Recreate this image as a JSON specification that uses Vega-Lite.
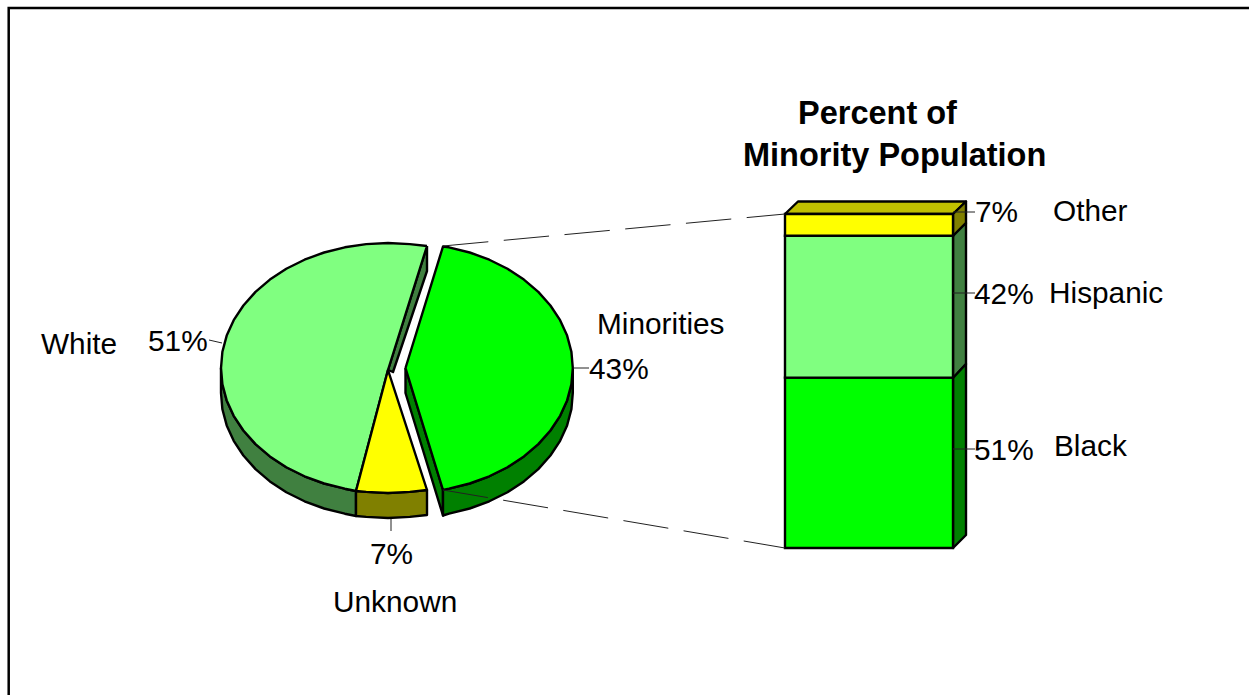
{
"$schema":"https://vega.github.io/schema/vega-lite/v6.json",
"width":1249,"height":695,"padding":0,
"autosize":{"type":"none"},
"background":"white",
"config":{"view":{"stroke":null},"axis":{"grid":false}},
"datasets":{
"shapes":[
{"s":"WhiteCut","p":"White side","i":0,"x":427,"y":246},{"s":"WhiteCut","p":"White side","i":1,"x":427,"y":271},{"s":"WhiteCut","p":"White side","i":2,"x":393,"y":372},{"s":"WhiteCut","p":"White side","i":3,"x":388,"y":370},{"s":"WhiteCut","p":"White side","i":4,"x":427,"y":246},
{"s":"WhiteSide","p":"White side","i":0,"x":221,"y":368},{"s":"WhiteSide","p":"White side","i":1,"x":222.4,"y":384.3},{"s":"WhiteSide","p":"White side","i":2,"x":226.7,"y":400.4},{"s":"WhiteSide","p":"White side","i":3,"x":233.7,"y":415.8},{"s":"WhiteSide","p":"White side","i":4,"x":243.4,"y":430.5},{"s":"WhiteSide","p":"White side","i":5,"x":255.5,"y":444.1},{"s":"WhiteSide","p":"White side","i":6,"x":269.9,"y":456.4},{"s":"WhiteSide","p":"White side","i":7,"x":286.3,"y":467.2},{"s":"WhiteSide","p":"White side","i":8,"x":304.5,"y":476.3},{"s":"WhiteSide","p":"White side","i":9,"x":324.1,"y":483.5},{"s":"WhiteSide","p":"White side","i":10,"x":344.8,"y":488.7},{"s":"WhiteSide","p":"White side","i":11,"x":356,"y":491},{"s":"WhiteSide","p":"White side","i":12,"x":356,"y":516},{"s":"WhiteSide","p":"White side","i":13,"x":344.8,"y":513.7},{"s":"WhiteSide","p":"White side","i":14,"x":324.1,"y":508.5},{"s":"WhiteSide","p":"White side","i":15,"x":304.5,"y":501.3},{"s":"WhiteSide","p":"White side","i":16,"x":286.3,"y":492.2},{"s":"WhiteSide","p":"White side","i":17,"x":269.9,"y":481.4},{"s":"WhiteSide","p":"White side","i":18,"x":255.5,"y":469.1},{"s":"WhiteSide","p":"White side","i":19,"x":243.4,"y":455.5},{"s":"WhiteSide","p":"White side","i":20,"x":233.7,"y":440.8},{"s":"WhiteSide","p":"White side","i":21,"x":226.7,"y":425.4},{"s":"WhiteSide","p":"White side","i":22,"x":222.4,"y":409.3},{"s":"WhiteSide","p":"White side","i":23,"x":221,"y":393},{"s":"WhiteSide","p":"White side","i":24,"x":221,"y":368},
{"s":"UnknownSide","p":"Yellow side","i":0,"x":356,"y":491},{"s":"UnknownSide","p":"Yellow side","i":1,"x":366.2,"y":491.9},{"s":"UnknownSide","p":"Yellow side","i":2,"x":388,"y":493},{"s":"UnknownSide","p":"Yellow side","i":3,"x":409.8,"y":491.9},{"s":"UnknownSide","p":"Yellow side","i":4,"x":427,"y":490},{"s":"UnknownSide","p":"Yellow side","i":5,"x":427,"y":515},{"s":"UnknownSide","p":"Yellow side","i":6,"x":409.8,"y":516.9},{"s":"UnknownSide","p":"Yellow side","i":7,"x":388,"y":518},{"s":"UnknownSide","p":"Yellow side","i":8,"x":366.2,"y":516.9},{"s":"UnknownSide","p":"Yellow side","i":9,"x":356,"y":516},{"s":"UnknownSide","p":"Yellow side","i":10,"x":356,"y":491},
{"s":"White","p":"White","i":0,"x":427,"y":246},{"s":"White","p":"White","i":1,"x":409.8,"y":244.1},{"s":"White","p":"White","i":2,"x":388,"y":243},{"s":"White","p":"White","i":3,"x":366.2,"y":244.1},{"s":"White","p":"White","i":4,"x":344.8,"y":247.3},{"s":"White","p":"White","i":5,"x":324.1,"y":252.5},{"s":"White","p":"White","i":6,"x":304.5,"y":259.7},{"s":"White","p":"White","i":7,"x":286.3,"y":268.8},{"s":"White","p":"White","i":8,"x":269.9,"y":279.6},{"s":"White","p":"White","i":9,"x":255.5,"y":291.9},{"s":"White","p":"White","i":10,"x":243.4,"y":305.5},{"s":"White","p":"White","i":11,"x":233.7,"y":320.2},{"s":"White","p":"White","i":12,"x":226.7,"y":335.6},{"s":"White","p":"White","i":13,"x":222.4,"y":351.7},{"s":"White","p":"White","i":14,"x":221,"y":368},{"s":"White","p":"White","i":15,"x":222.4,"y":384.3},{"s":"White","p":"White","i":16,"x":226.7,"y":400.4},{"s":"White","p":"White","i":17,"x":233.7,"y":415.8},{"s":"White","p":"White","i":18,"x":243.4,"y":430.5},{"s":"White","p":"White","i":19,"x":255.5,"y":444.1},{"s":"White","p":"White","i":20,"x":269.9,"y":456.4},{"s":"White","p":"White","i":21,"x":286.3,"y":467.2},{"s":"White","p":"White","i":22,"x":304.5,"y":476.3},{"s":"White","p":"White","i":23,"x":324.1,"y":483.5},{"s":"White","p":"White","i":24,"x":344.8,"y":488.7},{"s":"White","p":"White","i":25,"x":356,"y":491},{"s":"White","p":"White","i":26,"x":388,"y":370},{"s":"White","p":"White","i":27,"x":427,"y":246},
{"s":"Unknown","p":"Yellow","i":0,"x":356,"y":491},{"s":"Unknown","p":"Yellow","i":1,"x":366.2,"y":491.9},{"s":"Unknown","p":"Yellow","i":2,"x":388,"y":493},{"s":"Unknown","p":"Yellow","i":3,"x":409.8,"y":491.9},{"s":"Unknown","p":"Yellow","i":4,"x":427,"y":490},{"s":"Unknown","p":"Yellow","i":5,"x":388,"y":370},{"s":"Unknown","p":"Yellow","i":6,"x":356,"y":491},
{"s":"MinCut","p":"Green side","i":0,"x":405.5,"y":368},{"s":"MinCut","p":"Green side","i":1,"x":443,"y":490},{"s":"MinCut","p":"Green side","i":2,"x":443,"y":515.5},{"s":"MinCut","p":"Green side","i":3,"x":405.5,"y":393},{"s":"MinCut","p":"Green side","i":4,"x":405.5,"y":368},
{"s":"MinSide","p":"Green side","i":0,"x":443,"y":490},{"s":"MinSide","p":"Green side","i":1,"x":449,"y":488.7},{"s":"MinSide","p":"Green side","i":2,"x":469.7,"y":483.5},{"s":"MinSide","p":"Green side","i":3,"x":489.3,"y":476.3},{"s":"MinSide","p":"Green side","i":4,"x":507.5,"y":467.2},{"s":"MinSide","p":"Green side","i":5,"x":523.9,"y":456.4},{"s":"MinSide","p":"Green side","i":6,"x":538.3,"y":444.1},{"s":"MinSide","p":"Green side","i":7,"x":550.4,"y":430.5},{"s":"MinSide","p":"Green side","i":8,"x":560.1,"y":415.8},{"s":"MinSide","p":"Green side","i":9,"x":567.1,"y":400.4},{"s":"MinSide","p":"Green side","i":10,"x":571.4,"y":384.3},{"s":"MinSide","p":"Green side","i":11,"x":572.8,"y":368},{"s":"MinSide","p":"Green side","i":12,"x":572.8,"y":393},{"s":"MinSide","p":"Green side","i":13,"x":571.4,"y":409.3},{"s":"MinSide","p":"Green side","i":14,"x":567.1,"y":425.4},{"s":"MinSide","p":"Green side","i":15,"x":560.1,"y":440.8},{"s":"MinSide","p":"Green side","i":16,"x":550.4,"y":455.5},{"s":"MinSide","p":"Green side","i":17,"x":538.3,"y":469.1},{"s":"MinSide","p":"Green side","i":18,"x":523.9,"y":481.4},{"s":"MinSide","p":"Green side","i":19,"x":507.5,"y":492.2},{"s":"MinSide","p":"Green side","i":20,"x":489.3,"y":501.3},{"s":"MinSide","p":"Green side","i":21,"x":469.7,"y":508.5},{"s":"MinSide","p":"Green side","i":22,"x":449,"y":513.7},{"s":"MinSide","p":"Green side","i":23,"x":443,"y":515.5},{"s":"MinSide","p":"Green side","i":24,"x":443,"y":490},
{"s":"Minorities","p":"Green","i":0,"x":405.5,"y":368},{"s":"Minorities","p":"Green","i":1,"x":443,"y":246.5},{"s":"Minorities","p":"Green","i":2,"x":449,"y":247.3},{"s":"Minorities","p":"Green","i":3,"x":469.7,"y":252.5},{"s":"Minorities","p":"Green","i":4,"x":489.3,"y":259.7},{"s":"Minorities","p":"Green","i":5,"x":507.5,"y":268.8},{"s":"Minorities","p":"Green","i":6,"x":523.9,"y":279.6},{"s":"Minorities","p":"Green","i":7,"x":538.3,"y":291.9},{"s":"Minorities","p":"Green","i":8,"x":550.4,"y":305.5},{"s":"Minorities","p":"Green","i":9,"x":560.1,"y":320.2},{"s":"Minorities","p":"Green","i":10,"x":567.1,"y":335.6},{"s":"Minorities","p":"Green","i":11,"x":571.4,"y":351.7},{"s":"Minorities","p":"Green","i":12,"x":572.8,"y":368},{"s":"Minorities","p":"Green","i":13,"x":571.4,"y":384.3},{"s":"Minorities","p":"Green","i":14,"x":567.1,"y":400.4},{"s":"Minorities","p":"Green","i":15,"x":560.1,"y":415.8},{"s":"Minorities","p":"Green","i":16,"x":550.4,"y":430.5},{"s":"Minorities","p":"Green","i":17,"x":538.3,"y":444.1},{"s":"Minorities","p":"Green","i":18,"x":523.9,"y":456.4},{"s":"Minorities","p":"Green","i":19,"x":507.5,"y":467.2},{"s":"Minorities","p":"Green","i":20,"x":489.3,"y":476.3},{"s":"Minorities","p":"Green","i":21,"x":469.7,"y":483.5},{"s":"Minorities","p":"Green","i":22,"x":449,"y":488.7},{"s":"Minorities","p":"Green","i":23,"x":443,"y":490},{"s":"Minorities","p":"Green","i":24,"x":405.5,"y":368},
{"s":"BarTop","p":"Yellow top","i":0,"x":785,"y":214},{"s":"BarTop","p":"Yellow top","i":1,"x":798,"y":201.5},{"s":"BarTop","p":"Yellow top","i":2,"x":966,"y":201.5},{"s":"BarTop","p":"Yellow top","i":3,"x":953,"y":214},{"s":"BarTop","p":"Yellow top","i":4,"x":785,"y":214},
{"s":"OtherSide","p":"Yellow side","i":0,"x":953,"y":214},{"s":"OtherSide","p":"Yellow side","i":1,"x":966,"y":201.5},{"s":"OtherSide","p":"Yellow side","i":2,"x":966,"y":223},{"s":"OtherSide","p":"Yellow side","i":3,"x":953,"y":236},{"s":"OtherSide","p":"Yellow side","i":4,"x":953,"y":214},
{"s":"HispanicSide","p":"White side","i":0,"x":953,"y":236},{"s":"HispanicSide","p":"White side","i":1,"x":966,"y":223},{"s":"HispanicSide","p":"White side","i":2,"x":966,"y":364},{"s":"HispanicSide","p":"White side","i":3,"x":953,"y":378},{"s":"HispanicSide","p":"White side","i":4,"x":953,"y":236},
{"s":"BlackSide","p":"Green side","i":0,"x":953,"y":378},{"s":"BlackSide","p":"Green side","i":1,"x":966,"y":364},{"s":"BlackSide","p":"Green side","i":2,"x":966,"y":535},{"s":"BlackSide","p":"Green side","i":3,"x":953,"y":548},{"s":"BlackSide","p":"Green side","i":4,"x":953,"y":378}
],
"bar":[
{"group":"Black","share":51,"p":"Green","rank":1},
{"group":"Hispanic","share":42.5,"p":"White","rank":2},
{"group":"Other","share":6.5,"p":"Yellow","rank":3}
],
"frame":[
{"s":"frame","i":0,"x":1249,"y":8},{"s":"frame","i":1,"x":8.7,"y":8},{"s":"frame","i":2,"x":8.7,"y":695}
],
"leaders":[
{"s":"upper","i":0,"x":443,"y":246},{"s":"upper","i":1,"x":785,"y":214},
{"s":"lower","i":0,"x":443,"y":490},{"s":"lower","i":1,"x":785,"y":548}
],
"ticks":[
{"s":"white","i":0,"x":209,"y":340},{"s":"white","i":1,"x":222,"y":343},
{"s":"minorities","i":0,"x":573,"y":368},{"s":"minorities","i":1,"x":589,"y":368},
{"s":"unknown","i":0,"x":391,"y":519},{"s":"unknown","i":1,"x":391,"y":531},
{"s":"other","i":0,"x":953,"y":212},{"s":"other","i":1,"x":975,"y":212},
{"s":"hispanic","i":0,"x":953,"y":293},{"s":"hispanic","i":1,"x":975,"y":293},
{"s":"black","i":0,"x":953,"y":449},{"s":"black","i":1,"x":975,"y":449}
],
"labels":[
{"t":"White","x":41,"y":354},{"t":"51%","x":148,"y":351},
{"t":"Minorities","x":597,"y":334},{"t":"43%","x":589,"y":379},
{"t":"7%","x":370,"y":564},{"t":"Unknown","x":333,"y":612},
{"t":"7%","x":975,"y":222},{"t":"Other","x":1053,"y":221},
{"t":"42%","x":974,"y":304},{"t":"Hispanic","x":1049,"y":303},
{"t":"51%","x":974,"y":460},{"t":"Black","x":1054,"y":456}
],
"titles":[
{"t":"Percent of","x":798,"y":124},{"t":"Minority Population","x":743,"y":166}
]
},
"resolve":{"scale":{"y":"independent"}},
"layer":[
{"data":{"name":"shapes"},
 "mark":{"type":"line","stroke":"black","strokeWidth":2.4,"strokeJoin":"round","interpolate":"linear"},
 "encoding":{
  "x":{"field":"x","type":"quantitative","scale":{"domain":[0,1249],"nice":false,"zero":false},"axis":null},
  "y":{"field":"y","type":"quantitative","scale":{"domain":[695,0],"nice":false,"zero":false},"axis":null},
  "order":{"field":"i","type":"quantitative"},
  "detail":{"field":"s"},
  "fill":{"field":"p","type":"nominal","legend":null,"scale":{"domain":["White","White side","Yellow","Yellow side","Yellow top","Green","Green side"],"range":["#80FF80","#408040","#FFFF00","#808000","#C0C000","#00FF00","#008000"]}}
 }},
{"data":{"name":"bar"},
 "transform":[{"stack":"share","groupby":[],"sort":[{"field":"rank","order":"ascending"}],"as":["y0","y1"]}],
 "mark":{"type":"rect","stroke":"black","strokeWidth":2.4},
 "encoding":{
  "x":{"datum":785,"type":"quantitative","scale":{"domain":[0,1249],"nice":false,"zero":false},"axis":null},
  "x2":{"datum":953},
  "y":{"field":"y0","type":"quantitative","scale":{"domain":[0,100],"range":[548,214],"nice":false,"zero":false},"axis":null},
  "y2":{"field":"y1"},
  "fill":{"field":"p","type":"nominal","legend":null,"scale":{"domain":["White","White side","Yellow","Yellow side","Yellow top","Green","Green side"],"range":["#80FF80","#408040","#FFFF00","#808000","#C0C000","#00FF00","#008000"]}}
 }},
{"data":{"name":"frame"},
 "mark":{"type":"line","stroke":"black","strokeWidth":2.5,"clip":false},
 "encoding":{
  "x":{"field":"x","type":"quantitative","scale":{"domain":[0,1249],"nice":false,"zero":false},"axis":null},
  "y":{"field":"y","type":"quantitative","scale":{"domain":[695,0],"nice":false,"zero":false},"axis":null},
  "order":{"field":"i","type":"quantitative"}
 }},
{"data":{"name":"leaders"},
 "mark":{"type":"line","stroke":"#222222","strokeWidth":1,"strokeDash":[45.5,15.5]},
 "encoding":{
  "x":{"field":"x","type":"quantitative","scale":{"domain":[0,1249],"nice":false,"zero":false},"axis":null},
  "y":{"field":"y","type":"quantitative","scale":{"domain":[695,0],"nice":false,"zero":false},"axis":null},
  "order":{"field":"i","type":"quantitative"},
  "detail":{"field":"s"}
 }},
{"data":{"name":"ticks"},
 "mark":{"type":"line","stroke":"#222222","strokeWidth":1},
 "encoding":{
  "x":{"field":"x","type":"quantitative","scale":{"domain":[0,1249],"nice":false,"zero":false},"axis":null},
  "y":{"field":"y","type":"quantitative","scale":{"domain":[695,0],"nice":false,"zero":false},"axis":null},
  "order":{"field":"i","type":"quantitative"},
  "detail":{"field":"s"}
 }},
{"data":{"name":"labels"},
 "mark":{"type":"text","font":"Liberation Sans","fontSize":29.8,"align":"left","baseline":"alphabetic","color":"black"},
 "encoding":{
  "x":{"field":"x","type":"quantitative","scale":{"domain":[0,1249],"nice":false,"zero":false},"axis":null},
  "y":{"field":"y","type":"quantitative","scale":{"domain":[695,0],"nice":false,"zero":false},"axis":null},
  "text":{"field":"t"}
 }},
{"data":{"name":"titles"},
 "mark":{"type":"text","font":"Liberation Sans","fontSize":32.5,"fontWeight":"bold","align":"left","baseline":"alphabetic","color":"black"},
 "encoding":{
  "x":{"field":"x","type":"quantitative","scale":{"domain":[0,1249],"nice":false,"zero":false},"axis":null},
  "y":{"field":"y","type":"quantitative","scale":{"domain":[695,0],"nice":false,"zero":false},"axis":null},
  "text":{"field":"t"}
 }}
]
}
